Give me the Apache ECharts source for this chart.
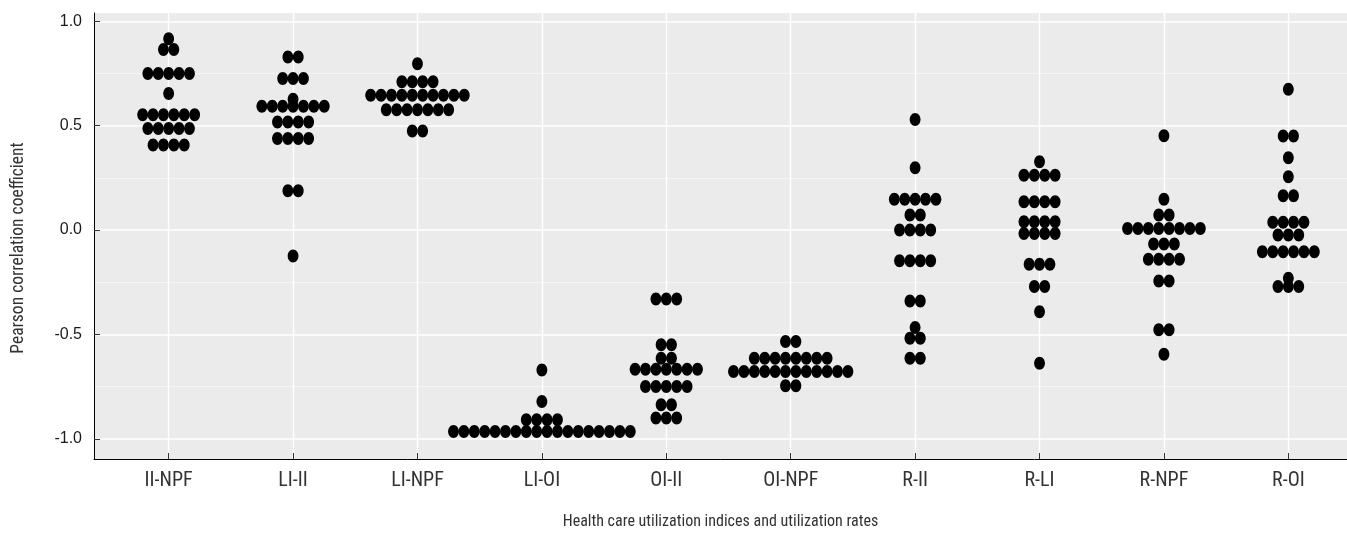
<!DOCTYPE html>
<html><head><meta charset="utf-8">
<script src="https://cdn.jsdelivr.net/npm/echarts@6/dist/echarts.min.js"></script>
<style>html,body{margin:0;padding:0;background:#fff}#c{width:1347px;height:535px}</style>
</head><body><div id="c"></div>
<script>
const categories = ['II-NPF', 'LI-II', 'LI-NPF', 'LI-OI', 'OI-II', 'OI-NPF', 'R-II', 'R-LI', 'R-NPF', 'R-OI'];

const iiNpf = [0.917, 0.865, 0.865, 0.75, 0.75, 0.75, 0.75, 0.75, 0.654,
  0.553, 0.553, 0.553, 0.553, 0.553, 0.553, 0.487, 0.487, 0.487, 0.487, 0.487,
  0.407, 0.407, 0.407, 0.407];
const liIi = [0.829, 0.829, 0.726, 0.726, 0.726, 0.627,
  0.593, 0.593, 0.593, 0.593, 0.593, 0.593, 0.593, 0.518, 0.518, 0.518, 0.518,
  0.439, 0.439, 0.439, 0.439, 0.188, 0.188, -0.124];
const liNpf = [0.797, 0.71, 0.71, 0.71, 0.71,
  0.646, 0.646, 0.646, 0.646, 0.646, 0.646, 0.646, 0.646, 0.646, 0.646,
  0.577, 0.577, 0.577, 0.577, 0.577, 0.577, 0.577, 0.475, 0.475];
const liOi = [-0.67, -0.821, -0.909, -0.909, -0.909, -0.909,
  -0.965, -0.965, -0.965, -0.965, -0.965, -0.965, -0.965, -0.965, -0.965,
  -0.965, -0.965, -0.965, -0.965, -0.965, -0.965, -0.965, -0.965, -0.965];
const oiIi = [-0.33, -0.33, -0.33, -0.55, -0.55, -0.614, -0.614,
  -0.667, -0.667, -0.667, -0.667, -0.667, -0.667, -0.667,
  -0.75, -0.75, -0.75, -0.75, -0.75, -0.837, -0.837, -0.901, -0.901, -0.901];
const oiNpf = [-0.534, -0.534, -0.614, -0.614, -0.614, -0.614, -0.614, -0.614, -0.614, -0.614,
  -0.678, -0.678, -0.678, -0.678, -0.678, -0.678, -0.678, -0.678, -0.678, -0.678, -0.678, -0.678,
  -0.746, -0.746];
const rIi = [0.53, 0.298, 0.148, 0.148, 0.148, 0.148, 0.148, 0.072, 0.072,
  0.0, 0.0, 0.0, 0.0, -0.147, -0.147, -0.147, -0.147, -0.34, -0.34,
  -0.467, -0.518, -0.518, -0.614, -0.614];
const rLi = [0.327, 0.263, 0.263, 0.263, 0.263, 0.136, 0.136, 0.136, 0.136,
  0.04, 0.04, 0.04, 0.04, -0.016, -0.016, -0.016, -0.016,
  -0.164, -0.164, -0.164, -0.271, -0.271, -0.391, -0.638];
const rNpf = [0.452, 0.147, 0.072, 0.072,
  0.008, 0.008, 0.008, 0.008, 0.008, 0.008, 0.008, 0.008,
  -0.067, -0.067, -0.067, -0.14, -0.14, -0.14, -0.14,
  -0.244, -0.244, -0.478, -0.478, -0.595];
const rOi = [0.675, 0.451, 0.451, 0.346, 0.255, 0.164, 0.164,
  0.037, 0.037, 0.037, 0.037, -0.024, -0.024, -0.024,
  -0.104, -0.104, -0.104, -0.104, -0.104, -0.104, -0.231, -0.271, -0.271, -0.271];

const seriesValues = [iiNpf, liIi, liNpf, liOi, oiIi, oiNpf, rIi, rLi, rNpf, rOi];
const yTicks = [-1, -0.5, 0, 0.5, 1];
const yMinorTicks = [-0.75, -0.25, 0.25, 0.75];
const xTicks = categories.map((c, i) => i);

// dotplot stacking: identical values in a category are stacked side by side, centred
const DOT_STEP = 10.4;
const dots = [];
seriesValues.forEach((vals, ci) => {
  const groups = new Map();
  vals.forEach(v => groups.set(v, (groups.get(v) || 0) + 1));
  groups.forEach((n, v) => {
    for (let i = 0; i < n; i++) dots.push([ci, v, i - (n - 1) / 2]);
  });
});

const narrow = '"Liberation Sans Narrow", "Roboto Condensed", "DejaVu Sans Condensed", sans-serif';

const chart = echarts.init(document.getElementById('c'), null, {renderer: 'canvas'});
chart.setOption({
  animation: false,
  backgroundColor: '#ffffff',
  grid: {left: 94, top: 13, width: 1269, height: 446, show: true,
    outerBoundsMode: 'none', containLabel: false,
    backgroundColor: '#ebebeb', borderWidth: 0},
  xAxis: {
    type: 'value', min: -0.6, max: 9.6, z: 10,
    axisLine: {show: true, onZero: false, lineStyle: {color: '#000', width: 1}},
    axisTick: {show: true, inside: true, length: 6, customValues: xTicks,
      lineStyle: {color: '#333', width: 1}},
    axisLabel: {customValues: xTicks, formatter: v => categories[Math.round(v)],
      fontFamily: narrow, fontSize: 20, color: '#333', margin: 12},
    splitLine: {show: false},
    name: 'Health care utilization indices and utilization rates',
    nameLocation: 'middle', nameGap: 55,
    nameTextStyle: {fontFamily: narrow, fontSize: 16, color: '#333', padding: [0, 16, 0, 0]}
  },
  yAxis: {
    type: 'value', min: -1.097, max: 1.04, z: 10,
    axisLine: {show: true, onZero: false, lineStyle: {color: '#000', width: 1}},
    axisTick: {show: true, inside: true, length: 6, customValues: yTicks,
      lineStyle: {color: '#333', width: 1}},
    axisLabel: {customValues: yTicks, formatter: v => v.toFixed(1),
      fontFamily: '"Liberation Sans", Arial, sans-serif', fontSize: 16, color: '#1a1a1a', margin: 12},
    splitLine: {show: false},
    name: 'Pearson correlation coefficient',
    nameLocation: 'middle', nameGap: 66,
    nameTextStyle: {fontFamily: narrow, fontSize: 17.5, color: '#333', padding: [0, 24, 0, 0]}
  },
  series: [
    {
      type: 'line', data: [[-0.6, 0]], showSymbol: false, silent: true, z: 1,
      lineStyle: {opacity: 0},
      markLine: {
        silent: true, symbol: 'none', label: {show: false}, animation: false, z: 1,
        data: [
          ...yMinorTicks.map(v => ({yAxis: v, lineStyle: {color: '#f7f7f7', width: 0.8, type: 'solid'}})),
          ...yTicks.map(v => ({yAxis: v, lineStyle: {color: '#ffffff', width: 1.6, type: 'solid'}})),
          ...xTicks.map(v => ({xAxis: v, lineStyle: {color: '#ffffff', width: 1.4, type: 'solid'}}))
        ]
      }
    },
    {
      type: 'custom', z: 3, clip: false,
      data: dots,
      encode: {x: 0, y: 1},
      renderItem: (params, api) => {
        const p = api.coord([api.value(0), api.value(1)]);
        return {
          type: 'ellipse',
          shape: {cx: p[0] + api.value(2) * DOT_STEP, cy: p[1], rx: 5.4, ry: 6.5},
          style: {fill: '#000'}
        };
      }
    }
  ]
});
</script>
</body></html>
